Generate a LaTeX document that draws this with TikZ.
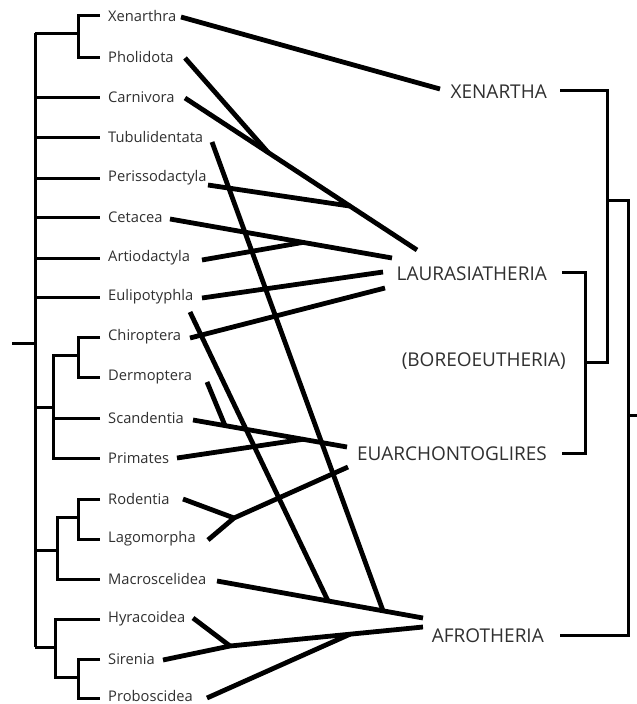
\documentclass[tikz,border=0pt]{standalone}
\usepackage{fontspec}
\setmainfont{Open Sans}
\usetikzlibrary{calc}
\definecolor{txt}{HTML}{303030}
\tikzset{
  leaf/.style={anchor=west, inner sep=0pt, text=txt, font=\fontsize{14.7}{16}\selectfont},
  clade/.style={anchor=east, inner sep=0pt, text=txt, font=\fontsize{19}{22}\selectfont},
  tree/.style={line width=3pt, line join=miter},
  link/.style={line width=4.8pt, line cap=butt}
}
\begin{document}
\begin{tikzpicture}[x=1pt,y=-1pt]
\fill[white] (0,0) rectangle (637,704);
\useasboundingbox (0,0) rectangle (637,704);

% ---- left leaf labels ----
\node[leaf] (xen) at (108,16) {Xenarthra};
\node[leaf] (pho) at (108,57) {Pholidota};
\node[leaf] (car) at (108,97) {Carnivora};
\node[leaf] (tub) at (108,137) {Tubulidentata};
\node[leaf] (per) at (108,178) {Perissodactyla};
\node[leaf] (cet) at (108,217) {Cetacea};
\node[leaf] (art) at (108,258) {Artiodactyla};
\node[leaf] (eul) at (108,297) {Eulipotyphla};
\node[leaf] (chi) at (108,337) {Chiroptera};
\node[leaf] (der) at (108,377) {Dermoptera};
\node[leaf] (sca) at (108,418) {Scandentia};
\node[leaf] (pri) at (108,458) {Primates};
\node[leaf] (rod) at (108,499) {Rodentia};
\node[leaf] (lag) at (108,539) {Lagomorpha};
\node[leaf] (mac) at (108,579) {Macroscelidea};
\node[leaf] (hyr) at (108,619) {Hyracoidea};
\node[leaf] (sir) at (108,659) {Sirenia};
\node[leaf] (pro) at (108,695.5) {Proboscidea};

% ---- right clade labels ----
\node[clade] (XEN) at (547,92) {XENARTHA};
\node[clade] (LAU) at (547,274) {LAURASIATHERIA};
\node[clade] (BOR) at (566,361) {(BOREOEUTHERIA)};
\node[clade] (EUA) at (547,454) {EUARCHONTOGLIRES};
\node[clade] (AFR) at (544,636) {AFROTHERIA};

% ---- left tree ----
\draw[tree] (12,343) -- (35,343);
\draw[tree] (35,33) -- (35,647);
\draw[tree] (35,33) -- (78,33);
\draw[tree] (100,15) -- (78,15) -- (78,57) -- (100,57);
\foreach \yy in {97,137,178,217,258,297} \draw[tree] (35,\yy) -- (100,\yy);
\draw[tree] (35,407) -- (53,407);
\draw[tree] (100,418) -- (53,418);
\draw[tree] (78,355) -- (53,355) -- (53,458) -- (100,458);
\draw[tree] (100,337) -- (78,337) -- (78,377) -- (100,377);
\draw[tree] (35,550) -- (57,550);
\draw[tree] (78,517) -- (57,517) -- (57,579) -- (100,579);
\draw[tree] (100,499) -- (78,499) -- (78,539) -- (100,539);
\draw[tree] (35,647) -- (55,647);
\draw[tree] (100,619) -- (55,619) -- (55,677) -- (78,677);
\draw[tree] (100,659) -- (78,659) -- (78,698) -- (100,698);

% ---- right tree ----
\draw[tree] (560,90) -- (607,90) -- (607,362) -- (585,362);
\draw[tree] (562,272) -- (585,272) -- (585,453) -- (562,453);
\draw[tree] (607,200) -- (628,200) -- (628,635) -- (560,635);
\draw[tree] (628,415) -- (637,415);

% ---- connector end points ----
\coordinate (sXen) at (181,17);
\coordinate (sPho) at (185,58);
\coordinate (sCar) at (185,98);
\coordinate (sTub) at (212,142);
\coordinate (sPer) at (208,185);
\coordinate (sCet) at (170,219);
\coordinate (sArt) at (202,260);
\coordinate (sEul) at (202,298);
\coordinate (sEulB) at (190,312);
\coordinate (sChi) at (190,338);
\coordinate (sDer) at (207,382);
\coordinate (sSca) at (193,420);
\coordinate (sPri) at (177,458);
\coordinate (sRod) at (183,499);
\coordinate (sLag) at (208,540);
\coordinate (sMac) at (217,581);
\coordinate (sHyr) at (193,618);
\coordinate (sSir) at (163,660);
\coordinate (sPro) at (207,698);

\coordinate (eXen) at (440,89);
\coordinate (eLau1) at (417,250);
\coordinate (eLau2) at (392,258);
\coordinate (eLau3) at (383,272);
\coordinate (eLau4) at (385,288);
\coordinate (eEua1) at (347,447);
\coordinate (eEua2) at (348,467);
\coordinate (eAfr1) at (423,618);
\coordinate (eAfr2) at (423,627);

\coordinate (jPho) at ($(sCar)!0.358!(eLau1)$);
\coordinate (jPer) at ($(sCar)!0.711!(eLau1)$);
\coordinate (jArt) at ($(sCet)!0.599!(eLau2)$);
\coordinate (jDer) at ($(sSca)!0.208!(eEua1)$);
\coordinate (jPri) at ($(sSca)!0.714!(eEua1)$);
\coordinate (jRL) at (234,518);
\coordinate (jTub) at ($(sMac)!0.806!(eAfr1)$);
\coordinate (jEul) at ($(sMac)!0.539!(eAfr1)$);
\coordinate (jHS) at (230,646);
\coordinate (jPro) at ($(jHS)!0.622!(eAfr2)$);

% ---- connectors ----
\draw[link] (sXen) -- (eXen);
\draw[link] (sCar) -- (eLau1);
\draw[link] (sPho) -- (jPho);
\draw[link] (sPer) -- (jPer);
\draw[link] (sCet) -- (eLau2);
\draw[link] (sArt) -- (jArt);
\draw[link] (sEul) -- (eLau3);
\draw[link] (sChi) -- (eLau4);
\draw[link] (sSca) -- (eEua1);
\draw[link] (sDer) -- (jDer);
\draw[link] (sPri) -- (jPri);
\draw[link] (sRod) -- (jRL);
\draw[link] (sLag) -- (jRL) -- (eEua2);
\draw[link] (sMac) -- (eAfr1);
\draw[link] (sTub) -- (jTub);
\draw[link] (sEulB) -- (jEul);
\draw[link] (sHyr) -- (jHS);
\draw[link] (sSir) -- (jHS) -- (eAfr2);
\draw[link] (sPro) -- (jPro);
\end{tikzpicture}
\end{document}
